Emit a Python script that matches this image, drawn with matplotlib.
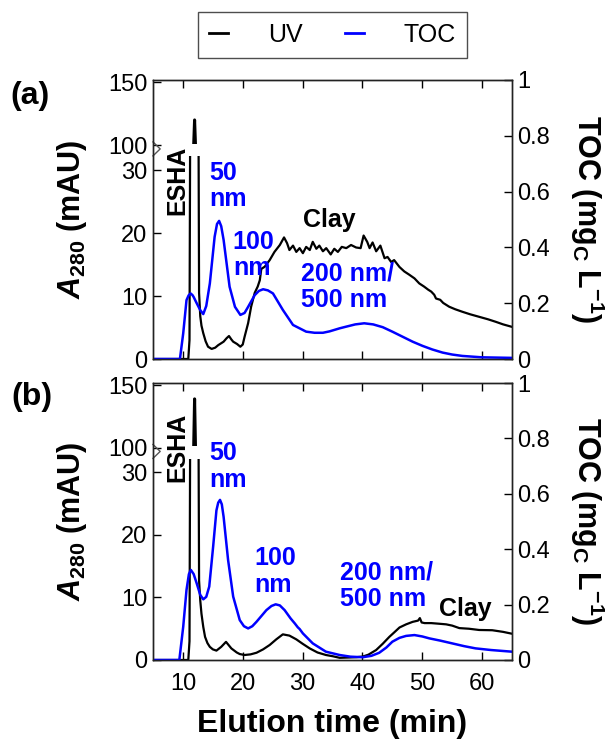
import numpy as np
import matplotlib
matplotlib.use('Agg')
import matplotlib.pyplot as plt
from matplotlib.patches import Rectangle
from matplotlib.lines import Line2D

plt.rcParams['font.family'] = ['Liberation Sans', 'DejaVu Sans']
plt.rcParams['mathtext.fontset'] = 'custom'
plt.rcParams['mathtext.rm'] = 'Liberation Sans:bold'
plt.rcParams['mathtext.it'] = 'Liberation Sans:italic:bold'
plt.rcParams['mathtext.bf'] = 'Liberation Sans:bold'

# ---- (a) UV absorbance, mAU ----
t_uv_a = [5, 10.9, 11.1, 11.2, 11.8, 11.95, 12.1, 12.62, 12.7, 12.9, 13.1, 13.4, 13.8, 14.2,
          14.8, 15.4, 15.9, 16.8, 17.3, 17.7, 18.1, 18.4, 19.05, 19.6, 20.0, 20.3, 20.9, 21.4,
          22.0, 22.5, 22.85, 23.1, 23.67, 24.5, 25.3, 26.2, 26.9, 27.4, 27.8, 28.4, 28.95, 29.5,
          30.05, 30.6, 31.2, 31.7, 32.3, 32.8, 33.4, 33.95, 34.7, 35.3, 35.9, 36.55, 37.3, 38.1,
          38.95, 39.7, 40.2, 40.8, 41.2, 41.7, 42.3, 43.0, 43.7, 44.2, 44.8, 45.3, 46.2, 47.0,
          47.8, 48.7, 49.5, 50.3, 51.0, 51.5, 52.0, 52.3, 53.0, 53.5, 54.5, 55.5, 56.7, 58.0,
          59.5, 61.0, 62.3, 63.5, 65]
uv_a = [0, 0, 3, 33, 100, 120, 100, 33, 10.5, 6.8, 5.3, 4.1, 2.8, 1.95,
        1.6, 1.8, 2.2, 2.75, 3.3, 3.65, 3.1, 2.75, 2.38, 1.95, 2.3, 3.5, 5.7, 8.3,
        10.5, 11.5, 12.5, 14.3, 14.65, 15.7, 17.0, 18.1, 19.3, 18.4, 17.3, 18.0, 17.0, 17.6,
        16.8, 17.8, 17.3, 18.6, 17.5, 18.0, 17.1, 17.6, 16.6, 17.5, 17.0, 17.8, 17.6, 18.1,
        17.7, 17.6, 19.6, 18.6, 17.6, 18.5, 17.1, 18.0, 16.0, 16.2, 15.4, 15.7, 14.6, 13.9,
        13.4, 12.8, 12.0, 11.5, 11.0, 10.7, 10.2, 9.6, 9.4, 8.9, 8.3, 7.9, 7.5, 7.1,
        6.7, 6.3, 5.9, 5.5, 5.1]

# ---- (a) TOC, mgC/L ----
t_toc_a = [5, 9.5, 10.05, 10.6, 10.95, 11.28, 11.6, 11.8, 12.3, 12.9, 13.4, 13.9, 14.5, 15.3,
           15.7, 16.05, 16.4, 16.8, 17.8, 18.7, 19.6, 20.3, 20.9, 22.0, 22.7, 23.4, 24.2, 25.05,
           26.7, 28.4, 30.6, 32.0, 33.4, 34.5, 36.2, 37.3, 38.8, 40.3, 41.8, 43.4, 45.0, 46.7,
           48.4, 50.05, 51.7, 53.4, 55.0, 56.7, 60.0, 65]
toc_a = [0, 0, 0.092, 0.211, 0.228, 0.235, 0.229, 0.222, 0.2, 0.175, 0.161, 0.19, 0.271, 0.438,
         0.484, 0.495, 0.476, 0.427, 0.259, 0.187, 0.158, 0.165, 0.187, 0.229, 0.244, 0.25, 0.246, 0.235,
         0.176, 0.122, 0.098, 0.094, 0.094, 0.099, 0.11, 0.116, 0.124, 0.128, 0.124, 0.114, 0.098, 0.08,
         0.062, 0.047, 0.034, 0.023, 0.016, 0.011, 0.006, 0.004]

# ---- (b) UV absorbance, mAU ----
t_uv_b = [5, 10.9, 11.1, 11.2, 11.8, 11.95, 12.1, 12.62, 12.7, 12.9, 13.1, 13.4, 13.7, 14.1,
          14.5, 15.0, 15.6, 16.4, 17.2, 18.1, 19.0, 19.5, 20.3, 21.3, 22.3, 23.4, 24.5, 25.6,
          26.7, 27.8, 28.95, 30.0, 31.2, 32.5, 33.9, 35.05, 36.2, 37.8, 39.0, 40.05, 41.0, 42.3,
          43.4, 44.5, 45.3, 46.2, 47.3, 48.4, 49.3, 49.6, 49.9, 50.4, 51.5, 52.8, 54.0, 55.0,
          56.2, 57.8, 59.5, 61.7, 63.5, 65]
uv_b = [0, 0, 3, 33, 100, 139, 100, 33, 12.7, 9.5, 7.4, 5.3, 3.7, 2.7,
        2.1, 1.7, 1.5, 2.1, 2.9, 1.85, 1.2, 0.95, 0.8, 0.9, 1.16, 1.7, 2.4, 3.3,
        4.1, 3.9, 3.3, 2.6, 1.85, 1.2, 0.8, 0.6, 0.35, 0.4, 0.45, 0.55, 0.85, 1.6,
        2.6, 3.7, 4.4, 5.2, 5.7, 6.1, 6.3, 6.7, 6.0, 5.9, 5.9, 5.8, 5.7, 5.5,
        5.1, 5.0, 4.8, 4.76, 4.5, 4.2]

# ---- (b) TOC, mgC/L ----
t_toc_b = [5, 9.4, 10.05, 10.6, 11.0, 11.33, 11.8, 12.3, 12.9, 13.4, 13.9, 14.4, 15.05, 15.6,
           15.9, 16.2, 16.5, 16.8, 17.55, 18.4, 19.5, 20.2, 20.9, 21.6, 22.3, 23.95, 24.8, 25.5,
           26.2, 27.0, 28.0, 28.7, 29.2, 29.5, 30.05, 31.7, 33.9, 36.2, 38.0, 40.05, 41.5, 42.8,
           44.0, 45.0, 46.2, 47.3, 48.7, 50.0, 51.2, 53.0, 55.0, 57.0, 58.9, 61.5, 65]
toc_b = [0, 0, 0.12, 0.253, 0.31, 0.325, 0.31, 0.277, 0.235, 0.219, 0.228, 0.265, 0.409, 0.54,
         0.568, 0.578, 0.562, 0.517, 0.361, 0.229, 0.144, 0.122, 0.114, 0.122, 0.138, 0.18, 0.195, 0.201,
         0.197, 0.18, 0.15, 0.132, 0.118, 0.112, 0.096, 0.06, 0.03, 0.018, 0.012, 0.01, 0.015, 0.026,
         0.045, 0.066, 0.08, 0.087, 0.09, 0.085, 0.078, 0.07, 0.06, 0.05, 0.042, 0.036, 0.03]

uv_ticks = [0, 10, 20, 30, 100, 150]
toc_ticks = [0, 0.2, 0.4, 0.6, 0.8, 1.0]
toc_ticklabels = ['0', '0.2', '0.4', '0.6', '0.8', '1']
time_ticks = [10, 20, 30, 40, 50, 60]

BLUE = '#0000ff'

# broken left axis: 0-33 linear, 33-100 squeezed, 100+ compressed
LO, HI = 33.0, 100.0
K_LO, K_GAP, K_HI = 6.3, 6.0 / 67.0, 1.26
Y_TOP = 151.7


def fwd(y):
    y = np.asarray(y, dtype=float)
    a = LO * K_LO
    b = a + (HI - LO) * K_GAP
    return np.where(y <= LO, y * K_LO,
                    np.where(y <= HI, a + (y - LO) * K_GAP, b + (y - HI) * K_HI))


def inv(u):
    u = np.asarray(u, dtype=float)
    a = LO * K_LO
    b = a + (HI - LO) * K_GAP
    return np.where(u <= a, u / K_LO,
                    np.where(u <= b, LO + (u - a) / K_GAP, HI + (u - b) / K_HI))


def draw_panel(ax, t_uv, uv, t_toc, toc, show_xlabels):
    ax.set_yscale('function', functions=(fwd, inv))
    ax.set_xlim(5, 65)
    ax.set_ylim(0, Y_TOP)
    total = float(fwd(Y_TOP))

    # UV trace, drawn twice and clipped so the break stays empty
    for y0, y1, lw in [(0, 32.2, 1.6), (101, Y_TOP, 2.2)]:
        ln, = ax.plot(t_uv, uv, color='black', lw=lw, solid_joinstyle='round')
        f0 = float(fwd(y0)) / total
        f1 = float(fwd(y1)) / total
        clip = Rectangle((0, f0), 1, f1 - f0, transform=ax.transAxes,
                         facecolor='none', edgecolor='none')
        ax.add_patch(clip)
        ln.set_clip_path(clip)

    ax.set_yticks(uv_ticks)
    ax.set_yticklabels([str(v) for v in uv_ticks])
    ax.set_xticks(time_ticks)
    ax.tick_params(axis='both', direction='in', length=6, width=1, labelsize=17,
                   top=True, pad=4)
    ax.tick_params(axis='x', pad=9, labelbottom=show_xlabels)
    ax.yaxis.set_minor_locator(matplotlib.ticker.NullLocator())

    # break mark on the left spine
    ax.plot([0, 0.02, 0], [0.778, 0.753, 0.728], transform=ax.transAxes,
            color='#555555', lw=1.0, clip_on=False)

    ax2 = ax.twinx()
    ax2.plot(t_toc, toc, color=BLUE, lw=1.8, solid_joinstyle='round')
    ax2.set_ylim(0, 1)
    ax2.set_yticks(toc_ticks)
    ax2.set_yticklabels(toc_ticklabels)
    ax2.tick_params(axis='y', direction='in', length=6, width=1, labelsize=17, pad=4)
    for a in (ax, ax2):
        for sp in a.spines.values():
            sp.set_linewidth(1.0)
            sp.set_color('#222222')
    return ax2


fig = plt.figure(figsize=(6.06, 7.41), dpi=100)
W, H = 606.0, 741.0
ax_a = fig.add_axes([153 / W, 1 - 359 / H, 359 / W, 279 / H])
ax_b = fig.add_axes([153 / W, 1 - 660 / H, 359 / W, 277 / H])

tw_a = draw_panel(ax_a, t_uv_a, uv_a, t_toc_a, toc_a, False)
tw_b = draw_panel(ax_b, t_uv_b, uv_b, t_toc_b, toc_b, True)

ann = dict(fontsize=18, fontweight='bold', va='center')

# panel (a) annotations
tw_a.text(9.0, 0.642, 'ESHA', rotation=90, ha='center', color='black', **ann)
tw_a.text(14.33, 0.62, '50\nnm', ha='left', color=BLUE, linespacing=1.15, **ann)
tw_a.text(18.33, 0.373, '100\nnm', ha='left', color=BLUE, linespacing=1.15, **ann)
tw_a.text(30.0, 0.50, 'Clay', ha='left', color='black', **ann)
tw_a.text(29.67, 0.258, '200 nm/\n500 nm', ha='left', color=BLUE, linespacing=1.15, **ann)

# panel (b) annotations
tw_b.text(9.0, 0.769, 'ESHA', rotation=90, ha='center', color='black', **ann)
tw_b.text(14.33, 0.70, '50\nnm', ha='left', color=BLUE, linespacing=1.15, **ann)
tw_b.text(22.0, 0.321, '100\nnm', ha='left', color=BLUE, linespacing=1.15, **ann)
tw_b.text(36.17, 0.267, '200 nm/\n500 nm', ha='left', color=BLUE, linespacing=1.15, **ann)
tw_b.text(52.83, 0.185, 'Clay', ha='left', color='black', **ann)

# panel letters
fig.text(30 / W, 1 - 96 / H, '(a)', fontsize=23, fontweight='bold', ha='center', va='center')
fig.text(32 / W, 1 - 397 / H, '(b)', fontsize=23, fontweight='bold', ha='center', va='center')

# axis titles
for yc in (219.5, 521.5):
    fig.text(72 / W, 1 - yc / H, r'$A_{\mathrm{280}}$ (mAU)', rotation=90, fontsize=22,
             fontweight='bold', ha='center', va='center')
    fig.text(587 / W, 1 - yc / H, r'TOC (mg$_{\mathrm{C}}$ L$^{\mathrm{-1}}$)', rotation=270,
             fontsize=22, fontweight='bold', ha='center', va='center')
fig.text(332.5 / W, 1 - 724 / H, 'Elution time (min)', fontsize=23, fontweight='bold',
         ha='center', va='center')

handles = [Line2D([], [], color='black', lw=2), Line2D([], [], color=BLUE, lw=2)]
leg = fig.legend(handles, ['UV', 'TOC'], loc='center', bbox_to_anchor=(332.5 / W, 1 - 35 / H),
                 ncol=2, fontsize=18, frameon=True, fancybox=False, edgecolor='#222222',
                 handlelength=0.75, handletextpad=1.6, columnspacing=1.7, borderpad=0.45)
leg.get_frame().set_linewidth(1.0)

fig.savefig('out.png', dpi=100)
